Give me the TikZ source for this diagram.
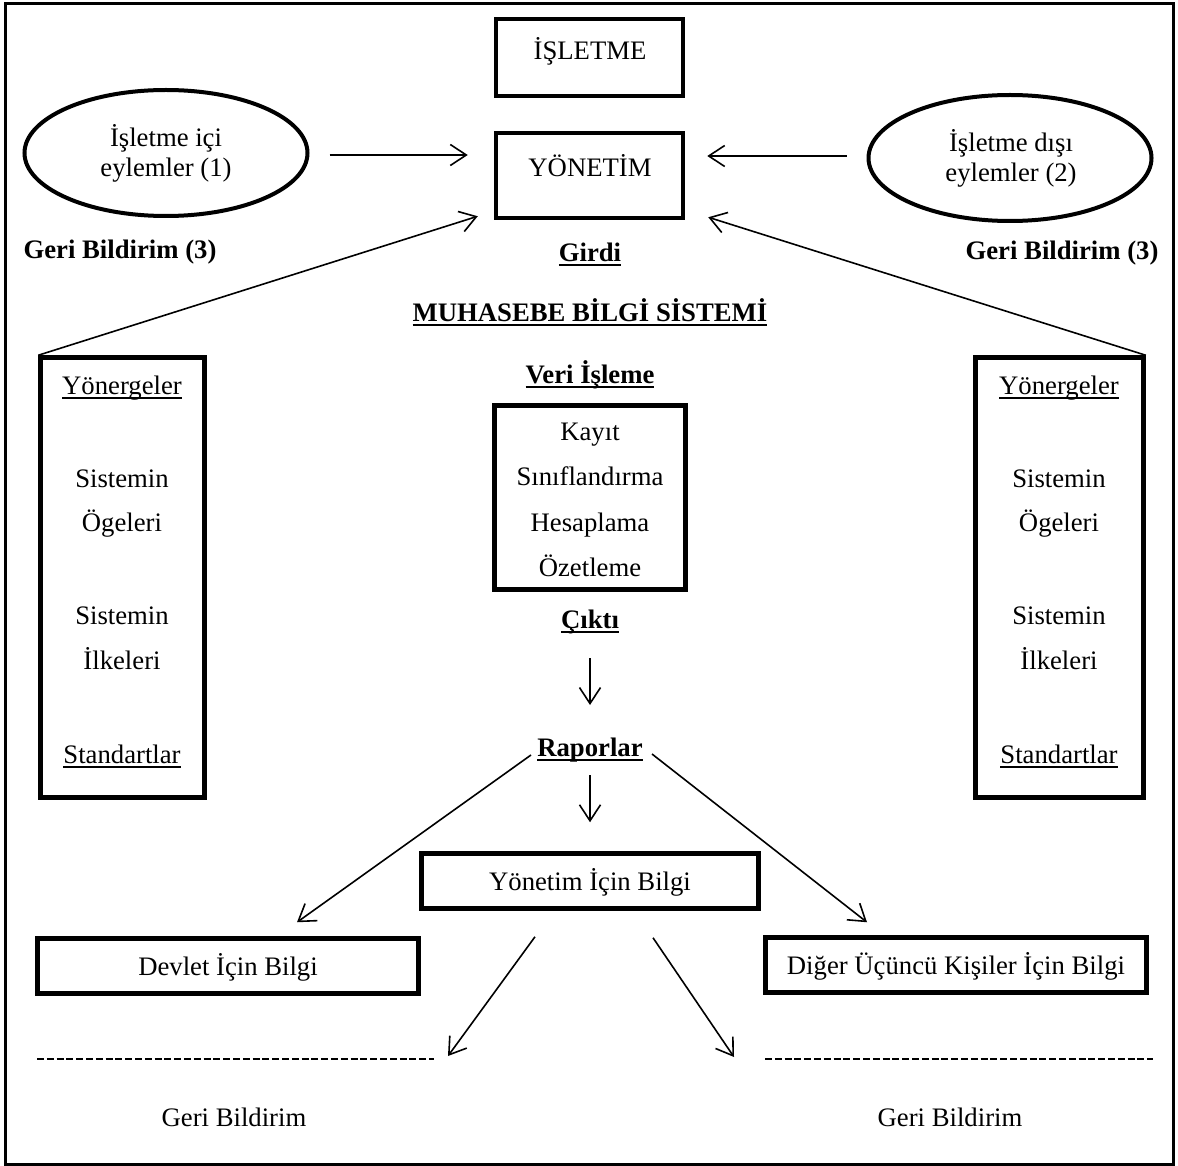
\documentclass[tikz,border=0pt]{standalone}
\usepackage{fontspec}
\setmainfont{Liberation Serif}
\usetikzlibrary{arrows.meta,shapes.geometric}

% underline at a fixed depth below the baseline, running through descenders
\newsavebox\ulbox
\newcommand\ulword[1]{\sbox\ulbox{#1}\rlap{\rule[-0.18em]{\wd\ulbox}{0.085em}}\usebox\ulbox}

\tikzset{
  basefont/.style={font=\fontsize{26.7}{31}\selectfont},
  txt/.style={basefont, inner sep=0pt, text height=18pt, text depth=5pt, anchor=center},
  btxt/.style={txt, font=\fontsize{26.7}{31}\selectfont\bfseries},
  frame/.style={draw, line width=4.5pt, inner sep=0pt, basefont, text height=23pt, text depth=5pt},
  oval/.style={draw, ellipse, line width=4pt, inner sep=0pt,
               minimum width=283pt, minimum height=126pt},
  arr/.style={line width=1.6pt, -{Straight Barb[length=16pt,width=21pt,line width=1.6pt]}},
  dashrule/.style={line width=2.2pt, dash pattern=on 7pt off 2.8pt}
}

\begin{document}
\begin{tikzpicture}[x=1pt,y=-1pt]
\useasboundingbox (0,0) rectangle (1178,1166);
\fill[white] (0,0) rectangle (1178,1166);

% outer frame
\draw[line width=3pt] (5.5,3.5) rectangle (1173.5,1164);

% top: company and management
\node[frame, minimum width=187pt, minimum height=77pt] (isl) at (589.5,57.5) {};
\node[txt] (islt) at (590,53.5) {İŞLETME};
\node[frame, minimum width=187pt, minimum height=85pt] (yon) at (589.5,175.5) {};
\node[txt] (yont) at (590,170.5) {YÖNETİM};

\node[oval] (ic) at (166,153) {};
\node[txt] (ic1) at (166,140.5) {İşletme içi};
\node[txt] (ic2) at (166,170.5) {eylemler (1)};
\node[oval] (dis) at (1010,158) {};
\node[txt] (dis1) at (1011,145.5) {İşletme dışı};
\node[txt] (dis2) at (1011,175.5) {eylemler (2)};

\node[btxt] (gb1) at (120,252.5) {Geri Bildirim (3)};
\node[btxt] (gb2) at (1062,253) {Geri Bildirim (3)};
\node[btxt] (girdi) at (590,255) {\ulword{Girdi}};
\node[btxt] (mbs) at (590,315) {\ulword{MUHASEBE BİLGİ SİSTEMİ}};
\node[btxt] (veri) at (590,376.5) {\ulword{Veri İşleme}};

% data processing box
\node[frame, minimum width=191pt, minimum height=184pt] (isleme) at (590,497.5) {};
\node[txt] (k1) at (590,434) {Kayıt};
\node[txt] (k2) at (590,478.5) {Sınıflandırma};
\node[txt] (k3) at (590,525) {Hesaplama};
\node[txt] (k4) at (590,570) {Özetleme};

\node[btxt] (cikti) at (590,621.5) {\ulword{Çıktı}};
\node[btxt] (rap) at (590,749.5) {\ulword{Raporlar}};

% side columns
\node[frame, minimum width=164pt, minimum height=440pt] (lbox) at (122.5,577.5) {};
\node[txt] (l1) at (122,388) {\ulword{Yönergeler}};
\node[txt] (l2) at (122,481) {Sistemin};
\node[txt] (l3) at (122,525) {Ögeleri};
\node[txt] (l4) at (122,618) {Sistemin};
\node[txt] (l5) at (122,663) {İlkeleri};
\node[txt] (l6) at (122,757) {\ulword{Standartlar}};

\node[frame, minimum width=168pt, minimum height=440pt] (rbox) at (1059.5,577.5) {};
\node[txt] (r1) at (1059,388) {\ulword{Yönergeler}};
\node[txt] (r2) at (1059,481) {Sistemin};
\node[txt] (r3) at (1059,525) {Ögeleri};
\node[txt] (r4) at (1059,618) {Sistemin};
\node[txt] (r5) at (1059,663) {İlkeleri};
\node[txt] (r6) at (1059,757) {\ulword{Standartlar}};

% information boxes
\node[frame, minimum width=337pt, minimum height=55pt] (yib) at (590,881) {Yönetim İçin Bilgi};
\node[frame, minimum width=381pt, minimum height=55pt] (dev) at (228,966) {Devlet İçin Bilgi};
\node[frame, minimum width=381pt, minimum height=55pt] (dig) at (956,965) {Diğer Üçüncü Kişiler İçin Bilgi};

% feedback rules
\coordinate (dl1) at (37,1059);
\coordinate (dl2) at (434,1059);
\coordinate (dr1) at (765,1059);
\coordinate (dr2) at (1153,1059);
\draw[dashrule] (dl1) -- (dl2);
\draw[dashrule] (dr1) -- (dr2);
\node[txt] (gb3) at (234,1120) {Geri Bildirim};
\node[txt] (gb4) at (950,1120) {Geri Bildirim};

% connectors
\draw[arr] ([shift={(20,2)}]ic.east) -- ([shift={(-26,-20.5)}]yon.west);
\draw[arr] ([shift={(-20,-2)}]dis.west) -- ([shift={(22,-19.5)}]yon.east);
\draw[arr] (lbox.north west) -- ([shift={(-16,-4)}]yon.south west);
\draw[arr] (rbox.north east) -- ([shift={(23,-3)}]yon.south east);
\draw[arr] ([shift={(0,36.5)}]cikti.center) -- ([shift={(0,-44.5)}]rap.center);
\draw[arr] ([shift={(0,25.5)}]rap.center) -- ([shift={(0,-29)}]yib.north);
\draw[arr] ([shift={(-59,5.5)}]rap.center) -- ([shift={(69,-14)}]dev.north);
\draw[arr] ([shift={(62,4.5)}]rap.center) -- ([shift={(-89,-13)}]dig.north);
\draw[arr] ([shift={(-55,26)}]yib.south) -- ([shift={(14,-3)}]dl2);
\draw[arr] ([shift={(63,27)}]yib.south) -- ([shift={(-31,-2)}]dr1);
\end{tikzpicture}
\end{document}
